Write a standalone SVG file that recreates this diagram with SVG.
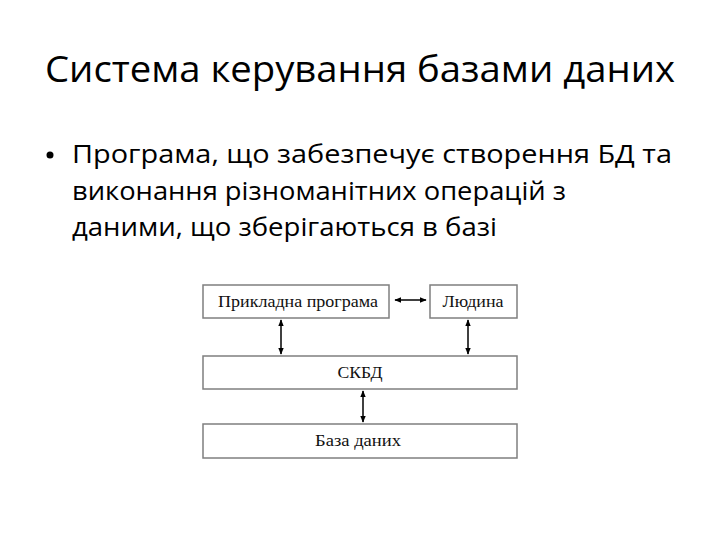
<svg xmlns="http://www.w3.org/2000/svg" width="720" height="540" viewBox="0 0 720 540">
<defs>
<style>
.t{font-family:"Open Sans","Noto Sans","DejaVu Sans",sans-serif;fill:#000}
.b{fill:#fff;stroke:#7f7f7f;stroke-width:1.5}
.l{font-family:"Liberation Serif","Times New Roman",serif;font-size:17px;fill:#111;text-anchor:middle}
.c{stroke:#000;stroke-width:1.5;fill:none;marker-start:url(#a);marker-end:url(#a)}
</style>
<marker id="a" viewBox="0 0 10 10" refX="9" refY="5" markerWidth="7" markerHeight="7" orient="auto-start-reverse" markerUnits="userSpaceOnUse">
<path d="M0,1 L10,5 L0,9 Z" fill="#000"/>
</marker>
</defs>
<rect width="720" height="540" fill="#fff"/>
<text class="t" x="45" y="82" font-size="37" textLength="630" lengthAdjust="spacingAndGlyphs">Система керування базами даних</text>
<circle cx="50" cy="155" r="3.5" fill="#000"/>
<text class="t" x="72" y="163" font-size="25" textLength="600" lengthAdjust="spacingAndGlyphs">Програма, що забезпечує створення БД та</text>
<text class="t" x="72" y="200" font-size="25" textLength="494" lengthAdjust="spacingAndGlyphs">виконання різноманітних операцій з</text>
<text class="t" x="72" y="236" font-size="25" textLength="425" lengthAdjust="spacingAndGlyphs">даними, що зберігаються в базі</text>
<g id="n1"><rect class="b" x="203" y="285" width="186" height="33"/><text class="l" x="298" y="307" textLength="160" lengthAdjust="spacingAndGlyphs">Прикладна програма</text></g>
<g id="n2"><rect class="b" x="430" y="285" width="87" height="33"/><text class="l" x="473" y="307" textLength="61" lengthAdjust="spacingAndGlyphs">Людина</text></g>
<g id="n3"><rect class="b" x="203" y="356" width="314" height="33"/><text class="l" x="360" y="378" textLength="45" lengthAdjust="spacingAndGlyphs">СКБД</text></g>
<g id="n4"><rect class="b" x="203" y="424" width="314" height="34"/><text class="l" x="358" y="446" textLength="86" lengthAdjust="spacingAndGlyphs">База даних</text></g>
<g id="connectors">
<line class="c" x1="395" y1="300" x2="426" y2="300"/>
<line class="c" x1="281" y1="320" x2="281" y2="354"/>
<line class="c" x1="468" y1="320" x2="468" y2="354"/>
<line class="c" x1="363" y1="391" x2="363" y2="422"/>
</g>
</svg>
